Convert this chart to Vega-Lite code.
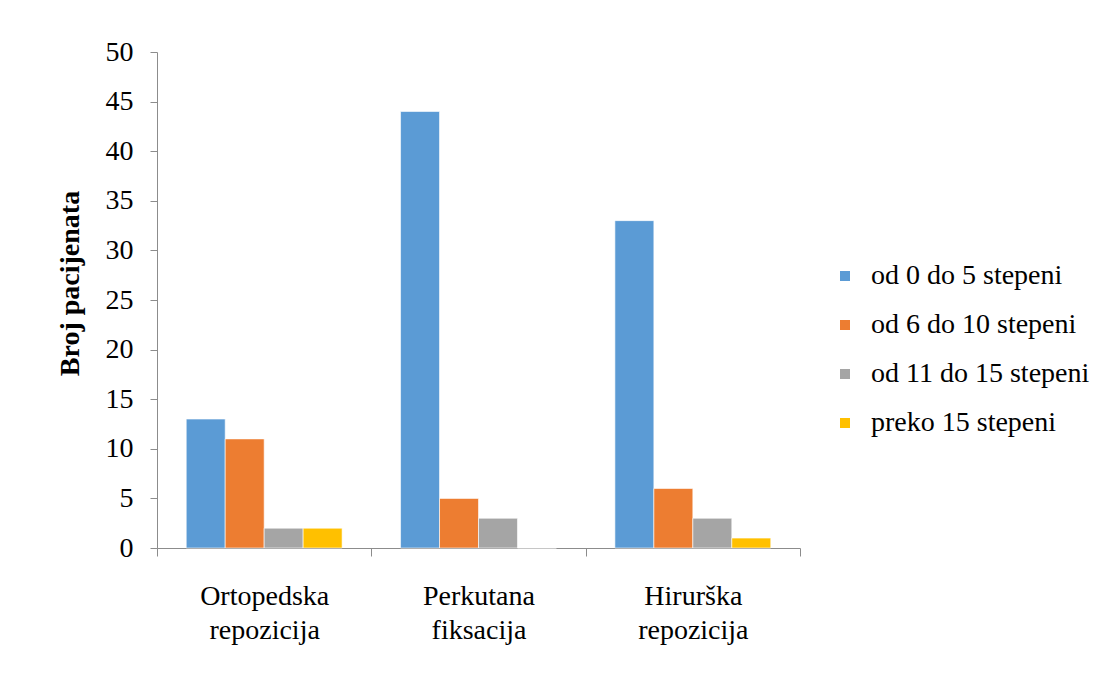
{
  "$schema": "https://vega.github.io/schema/vega-lite/v6.json",
  "width": 643,
  "height": 496,
  "autosize": {"type": "none"},
  "padding": {"left": 157, "top": 52, "right": 318, "bottom": 127},
  "background": "white",
  "config": {
    "view": {"stroke": null},
    "font": "Liberation Serif",
    "axis": {"domainColor": "#8C8C8C", "tickColor": "#8C8C8C", "grid": false, "labelColor": "#000000", "titleColor": "#000000", "labelFont": "Liberation Serif", "titleFont": "Liberation Serif"}
  },
  "data": {
    "values": [
      {"metod": "Ortopedska repozicija", "kat": "od 0 do 5 stepeni", "broj": 13},
      {"metod": "Ortopedska repozicija", "kat": "od 6 do 10 stepeni", "broj": 11},
      {"metod": "Ortopedska repozicija", "kat": "od 11 do 15 stepeni", "broj": 2},
      {"metod": "Ortopedska repozicija", "kat": "preko 15 stepeni", "broj": 2},
      {"metod": "Perkutana fiksacija", "kat": "od 0 do 5 stepeni", "broj": 44},
      {"metod": "Perkutana fiksacija", "kat": "od 6 do 10 stepeni", "broj": 5},
      {"metod": "Perkutana fiksacija", "kat": "od 11 do 15 stepeni", "broj": 3},
      {"metod": "Perkutana fiksacija", "kat": "preko 15 stepeni", "broj": 0},
      {"metod": "Hirurška repozicija", "kat": "od 0 do 5 stepeni", "broj": 33},
      {"metod": "Hirurška repozicija", "kat": "od 6 do 10 stepeni", "broj": 6},
      {"metod": "Hirurška repozicija", "kat": "od 11 do 15 stepeni", "broj": 3},
      {"metod": "Hirurška repozicija", "kat": "preko 15 stepeni", "broj": 1}
    ]
  },
  "mark": {"type": "bar", "stroke": "white", "strokeWidth": 0.6},
  "encoding": {
    "x": {
      "field": "metod",
      "type": "nominal",
      "sort": ["Ortopedska repozicija", "Perkutana fiksacija", "Hirurška repozicija"],
      "scale": {"paddingInner": 0, "paddingOuter": 0},
      "axis": {
        "title": null,
        "labelAngle": 0,
        "labelFontSize": 28,
        "labelLineHeight": 34,
        "labelPadding": 26,
        "labelBaseline": "top",
        "labelExpr": "split(datum.label, ' ')",
        "tickBand": "extent",
        "tickSize": 8
      }
    },
    "xOffset": {
      "field": "kat",
      "type": "nominal",
      "sort": ["od 0 do 5 stepeni", "od 6 do 10 stepeni", "od 11 do 15 stepeni", "preko 15 stepeni"],
      "scale": {"paddingInner": 0, "paddingOuter": 0.75}
    },
    "y": {
      "field": "broj",
      "type": "quantitative",
      "scale": {"domain": [0, 50]},
      "axis": {
        "values": [0, 5, 10, 15, 20, 25, 30, 35, 40, 45, 50],
        "title": "Broj pacijenata",
        "titleFontSize": 28,
        "titleFontWeight": "bold",
        "titleX": -87,
        "titleY": 231,
        "titleAngle": -90,
        "titleAlign": "center",
        "titleBaseline": "middle",
        "labelFontSize": 28,
        "labelPadding": 17,
        "tickSize": 7
      }
    },
    "color": {
      "field": "kat",
      "type": "nominal",
      "sort": ["od 0 do 5 stepeni", "od 6 do 10 stepeni", "od 11 do 15 stepeni", "preko 15 stepeni"],
      "scale": {"range": ["#5B9BD5", "#ED7D31", "#A5A5A5", "#FFC000"]},
      "legend": {
        "title": null,
        "orient": "none",
        "legendX": 674,
        "legendY": 210,
        "symbolType": "square",
        "symbolSize": 100,
        "symbolStrokeWidth": 0,
        "labelFontSize": 28,
        "labelFont": "Liberation Serif",
        "labelColor": "#000000",
        "labelOffset": 12,
        "rowPadding": 21,
        "labelLimit": 300
      }
    }
  }
}
